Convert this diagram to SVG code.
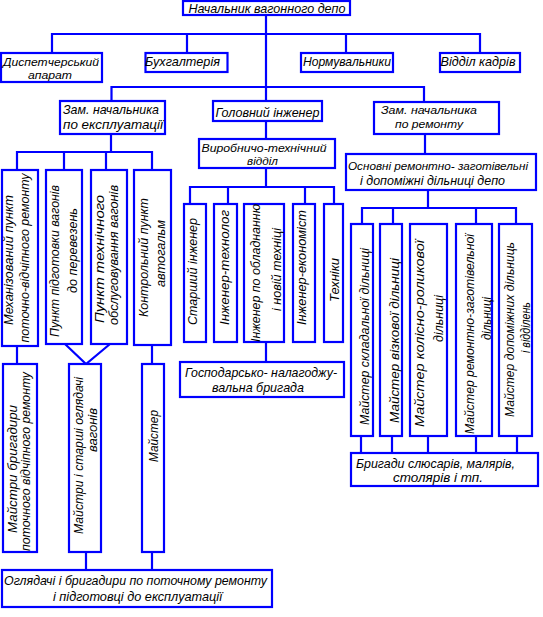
<svg xmlns="http://www.w3.org/2000/svg" width="543" height="617" viewBox="0 0 543 617">
<style>
rect{fill:#fff;stroke:#0000ff;stroke-width:2.2}
#connectors path{fill:none;stroke:#0000ff;stroke-width:2.2}
text{font-family:"Liberation Sans Narrow","Liberation Sans",Arial,sans-serif;font-style:italic;font-size:13px;fill:#000;text-anchor:middle}
text.t{font-size:11.5px}
</style>
<rect x="0" y="0" width="543" height="617" style="stroke:none"/>
<g id="connectors">
<path d="M266,15V87M52,53V34H480V53M187,34V53M346,34V53"/>
<path d="M111.5,101V87H424V102M266,87V101"/>
<path d="M111,134V152M17,170V152H152V170M64,152V170M106,152V170"/>
<path d="M17,346V364M65,344L86,364L110,344M152,345V364M86,552V570M152,552V570"/>
<path d="M266,121V139M266,168V187M190,204V187H334V204M228,187V204M305,187V204M266,342V362"/>
<path d="M425,134V154M428,190V208M362,224V208H516V224M393,208V224M476,208V224"/>
<path d="M361,436V453M392,436V453M428,436V453M476,436V453M517,436V453"/>
</g>
<g id="n-head"><rect x="183" y="1" width="167" height="14"/><text x="267" y="13" textLength="157" lengthAdjust="spacingAndGlyphs">Начальник вагонного депо</text></g>
<g id="n-disp"><rect x="1" y="53" width="101" height="29"/><text class="t" x="51" y="66" textLength="96" lengthAdjust="spacingAndGlyphs">Диспетчерський</text><text class="t" x="50" y="79" textLength="44" lengthAdjust="spacingAndGlyphs">апарат</text></g>
<g id="n-buh"><rect x="145.5" y="53" width="82" height="19"/><text x="182.5" y="66" textLength="75" lengthAdjust="spacingAndGlyphs">Бухгалтерія</text></g>
<g id="n-norm"><rect x="301" y="53" width="92" height="19"/><text x="347" y="66" textLength="88" lengthAdjust="spacingAndGlyphs">Нормувальники</text></g>
<g id="n-kadr"><rect x="440" y="53" width="80" height="19"/><text x="478" y="66" textLength="75" lengthAdjust="spacingAndGlyphs">Відділ  кадрів</text></g>
<g id="n-zam-ex"><rect x="60" y="101" width="105" height="33"/><text x="111" y="114" textLength="96" lengthAdjust="spacingAndGlyphs">Зам. начальника</text><text x="113" y="129" textLength="100" lengthAdjust="spacingAndGlyphs">по експлуатації</text></g>
<g id="n-gol"><rect x="213" y="101" width="109" height="20"/><text x="267.5" y="116.5" textLength="104" lengthAdjust="spacingAndGlyphs">Головний інженер</text></g>
<g id="n-zam-rem"><rect x="374" y="102" width="125" height="32"/><text class="t" x="429" y="114" textLength="96" lengthAdjust="spacingAndGlyphs">Зам. начальника</text><text class="t" x="429" y="127.5" textLength="68" lengthAdjust="spacingAndGlyphs">по ремонту</text></g>
<g id="n-vto"><rect x="199" y="139" width="136" height="29"/><text class="t" x="264" y="152" textLength="125" lengthAdjust="spacingAndGlyphs">Виробничо-технічний</text><text class="t" x="262.5" y="165" textLength="31" lengthAdjust="spacingAndGlyphs">відділ</text></g>
<g id="n-osn"><rect x="346" y="154" width="190" height="36"/><text class="t" x="438" y="169.5" textLength="180" lengthAdjust="spacingAndGlyphs">Основні ремонтно- заготівельні</text><text x="432.5" y="185" textLength="145" lengthAdjust="spacingAndGlyphs">і допоміжні дільниці депо</text></g>
<g id="n-mpt"><rect x="2" y="170" width="36" height="176"/><text transform="translate(13,260) rotate(-90)" textLength="130" lengthAdjust="spacingAndGlyphs">Механізований пункт</text><text transform="translate(29,258) rotate(-90)" textLength="169" lengthAdjust="spacingAndGlyphs">поточно-відчіпного ремонту</text></g>
<g id="n-ppv"><rect x="46" y="170" width="36" height="174"/><text transform="translate(59,261) rotate(-90)" textLength="152" lengthAdjust="spacingAndGlyphs">Пункт підготовки вагонів</text><text transform="translate(77,250.5) rotate(-90)" textLength="85" lengthAdjust="spacingAndGlyphs">до перевезень</text></g>
<g id="n-pto"><rect x="91" y="170" width="36" height="174"/><text transform="translate(104,259) rotate(-90)" textLength="128" lengthAdjust="spacingAndGlyphs">Пункт технічного</text><text transform="translate(118,255) rotate(-90)" textLength="140" lengthAdjust="spacingAndGlyphs">обслуговування вагонів</text></g>
<g id="n-kpa"><rect x="134" y="170" width="37" height="175"/><text transform="translate(148,257.5) rotate(-90)" textLength="119" lengthAdjust="spacingAndGlyphs">Контрольний пункт</text><text transform="translate(165,253.5) rotate(-90)" textLength="67" lengthAdjust="spacingAndGlyphs">автогальм</text></g>
<g id="n-st-ing"><rect x="184" y="204" width="22" height="138"/><text transform="translate(197,271.5) rotate(-90)" textLength="107" lengthAdjust="spacingAndGlyphs">Старший інженер</text></g>
<g id="n-ing-tech"><rect x="214" y="204" width="23" height="138"/><text transform="translate(229,267.5) rotate(-90)" textLength="115" lengthAdjust="spacingAndGlyphs">Інженер-технолог</text></g>
<g id="n-ing-obl"><rect x="244" y="204" width="40" height="138"/><text transform="translate(260,273) rotate(-90)" textLength="138" lengthAdjust="spacingAndGlyphs">Інженер по обладнанню</text><text transform="translate(281,269.5) rotate(-90)" textLength="83" lengthAdjust="spacingAndGlyphs">і новій техніці</text></g>
<g id="n-ing-ek"><rect x="293" y="204" width="22" height="138"/><text transform="translate(306,267.5) rotate(-90)" textLength="115" lengthAdjust="spacingAndGlyphs">Інженер-економіст</text></g>
<g id="n-tech"><rect x="324" y="204" width="19" height="138"/><text transform="translate(339,280) rotate(-90)" textLength="44" lengthAdjust="spacingAndGlyphs">Техніки</text></g>
<g id="n-gnb"><rect x="180" y="362" width="164" height="35"/><text x="261" y="377" textLength="152" lengthAdjust="spacingAndGlyphs">Господарсько- налагоджу-</text><text x="258" y="392" textLength="92" lengthAdjust="spacingAndGlyphs">вальна бригада</text></g>
<g id="n-m-skl"><rect x="351" y="224" width="22" height="212"/><text transform="translate(369,336.5) rotate(-90)" textLength="177" lengthAdjust="spacingAndGlyphs">Майстер складальної дільниці</text></g>
<g id="n-m-viz"><rect x="380" y="224" width="22" height="212"/><text transform="translate(399,340.5) rotate(-90)" textLength="165" lengthAdjust="spacingAndGlyphs">Майстер візкової дільниці</text></g>
<g id="n-m-kol"><rect x="410" y="224" width="37" height="212"/><text transform="translate(424,333.5) rotate(-90)" textLength="187" lengthAdjust="spacingAndGlyphs">Майстер колісно-роликової</text><text transform="translate(443,318.5) rotate(-90)" textLength="47" lengthAdjust="spacingAndGlyphs">дільниці</text></g>
<g id="n-m-rz"><rect x="456" y="224" width="36" height="212"/><text transform="translate(474,334) rotate(-90)" textLength="200" lengthAdjust="spacingAndGlyphs">Майстер ремонтно-заготівельної</text><text transform="translate(491,318.5) rotate(-90)" textLength="43" lengthAdjust="spacingAndGlyphs">дільниці</text></g>
<g id="n-m-dop"><rect x="499" y="224" width="33" height="212"/><text transform="translate(514,329.5) rotate(-90)" textLength="175" lengthAdjust="spacingAndGlyphs">Майстер допоміжних дільниць</text><text transform="translate(530,327.5) rotate(-90)" textLength="51" lengthAdjust="spacingAndGlyphs">і відділень</text></g>
<g id="n-brig"><rect x="351" y="453" width="187" height="33"/><text x="435.5" y="468" textLength="159" lengthAdjust="spacingAndGlyphs">Бригади слюсарів, малярів,</text><text x="438" y="482" textLength="90" lengthAdjust="spacingAndGlyphs">столярів і тп.</text></g>
<g id="n-m-brig"><rect x="3" y="364" width="34" height="188"/><text transform="translate(17,469) rotate(-90)" textLength="128" lengthAdjust="spacingAndGlyphs">Майстри бригадири</text><text transform="translate(30,461.5) rotate(-90)" textLength="179" lengthAdjust="spacingAndGlyphs">поточного відчіпного ремонту</text></g>
<g id="n-m-ogl"><rect x="69" y="364" width="32" height="188"/><text transform="translate(83,455.5) rotate(-90)" textLength="157" lengthAdjust="spacingAndGlyphs">Майстри і старші оглядачі</text><text transform="translate(97,430) rotate(-90)">вагонів</text></g>
<g id="n-majster"><rect x="142" y="364" width="22" height="188"/><text transform="translate(158,436) rotate(-90)" textLength="52" lengthAdjust="spacingAndGlyphs">Майстер</text></g>
<g id="n-ogl"><rect x="2" y="570" width="270" height="37"/><text x="135.5" y="585" textLength="263" lengthAdjust="spacingAndGlyphs">Оглядачі і бригадири по поточному ремонту</text><text x="137.5" y="601" textLength="169" lengthAdjust="spacingAndGlyphs">і підготовці до експлуатації</text></g>
</svg>
